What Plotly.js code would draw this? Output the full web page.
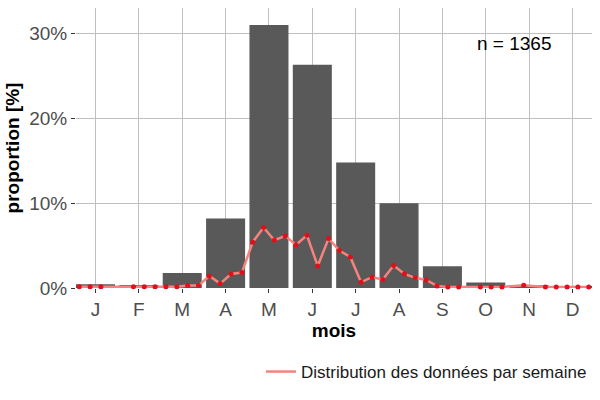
<!DOCTYPE html>
<html>
<head>
<meta charset="utf-8">
<script src="https://cdn.plot.ly/plotly-3.0.1.min.js"></script>
<style>
body { margin: 0; background: #fff; }
#chart { width: 600px; height: 400px; }
</style>
</head>
<body>
<div id="chart"></div>
<script>
// month labels (x positions 0..11)
var monthLabels = ['J', 'F', 'M', 'A', 'M', 'J', 'J', 'A', 'S', 'O', 'N', 'D'];
// share of records per month, in %
var monthShare = [0.44, 0.35, 1.77, 8.2, 31.0, 26.3, 14.8, 10.0, 2.56, 0.64, 0.32, 0.24];
// weekly distribution, 4 slots per month, in % (null = no point)
var weekShare = [
	0.15, 0.15, 0.15, null,
	null, 0.15, 0.15, 0.15,
	0.15, 0.15, 0.28, 0.28,
	1.42, 0.52, 1.65, 1.82,
	5.4, 7.13, 5.63, 6.14,
	5.08, 6.22, 2.6, 5.83,
	4.41, 3.66, 0.67, 1.3,
	1.0, 2.65, 1.65, 1.2,
	0.95, 0.25, 0.12, 0.12,
	null, 0.12, 0.12, 0.12,
	null, 0.32, null, 0.12,
	0.12, 0.12, 0.12, 0.12
];
var yTicks = [0, 10, 20, 30];
var yTickLabels = ['0%', '10%', '20%', '30%'];
var sampleSize = 1365;

var monthX = [];
for(var iii = 0; iii < monthLabels.length; iii++)
{
	monthX.push(iii);
}
var weekX = [];
for(iii = 0; iii < weekShare.length; iii++)
{
	weekX.push(Math.floor(iii / 4) + (iii % 4 - 1.5) * 0.25);
}

var bars =
{
	x: monthX,
	y: monthShare,
	type: 'bar',
	width: 0.9,
	marker: {color: '#595959'},
	showlegend: false,
	hoverinfo: 'skip'
};
var weekLine =
{
	x: weekX,
	y: weekShare,
	type: 'scatter',
	mode: 'lines',
	connectgaps: true,
	line: {color: '#F4837D', width: 2.5},
	name: 'Distribution des données par semaine',
	cliponaxis: false
};
var weekDots =
{
	x: weekX,
	y: weekShare,
	type: 'scatter',
	mode: 'markers',
	marker: {color: '#E0101A', size: 5},
	showlegend: false,
	cliponaxis: false
};

var layout =
{
	width: 600,
	height: 400,
	paper_bgcolor: '#ffffff',
	plot_bgcolor: '#ffffff',
	font: {family: 'Liberation Sans, Arial, sans-serif', color: '#4d4d4d', size: 19},
	margin: {l: 76, r: 8, t: 8, b: 112},
	xaxis: {
		range: [-0.45, 11.45],
		tickvals: monthX,
		ticktext: monthLabels,
		showgrid: true, gridcolor: '#bfbfbf', gridwidth: 1,
		zeroline: false, showline: false,
		ticks: 'outside', ticklen: 4, tickcolor: '#333333',
		tickfont: {size: 19, color: '#4d4d4d'},
		title: {text: '<b>mois</b>', font: {size: 19, color: '#000000'}, standoff: 3},
		automargin: false
	},
	yaxis: {
		range: [0, 33],
		tickvals: yTicks,
		ticktext: yTickLabels,
		showgrid: true, gridcolor: '#bfbfbf', gridwidth: 1,
		zeroline: false, showline: false,
		ticks: 'outside', ticklen: 4, tickcolor: '#333333',
		tickfont: {size: 19, color: '#4d4d4d'},
		title: {text: '<b>proportion [%]</b>', font: {size: 19, color: '#000000'}, standoff: 4},
		automargin: false
	},
	legend: {
		orientation: 'h',
		x: 1, xanchor: 'right', xref: 'paper',
		y: -0.30, yanchor: 'middle',
		itemwidth: 30,
		font: {size: 17, color: '#1a1a1a'},
		bgcolor: 'rgba(0,0,0,0)'
	},
	annotations: [{
		text: 'n = ' + sampleSize,
		xref: 'paper', yref: 'paper',
		x: 0.85, y: 0.875,
		xanchor: 'center', yanchor: 'middle',
		showarrow: false,
		font: {size: 19, color: '#000000'}
	}],
	bargap: 0.1
};

Plotly.newPlot('chart', [bars, weekLine, weekDots], layout, {displayModeBar: false, staticPlot: true});
</script>
</body>
</html>
